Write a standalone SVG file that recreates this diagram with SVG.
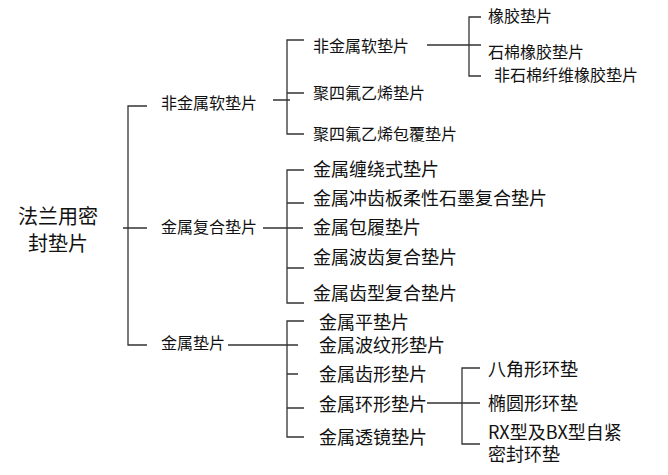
<svg xmlns="http://www.w3.org/2000/svg" width="668" height="475" viewBox="0 0 668 475">
<style>
text{font-family:"Noto Sans CJK SC","Noto Sans",sans-serif;fill:#111}
.f20{font-size:20px}
.f16{font-size:16px}
.f18{font-size:18px}
#connectors path{fill:none;stroke:#333;stroke-width:1.3}
</style>
<rect width="668" height="475" fill="#fff"/>
<g id="connectors">
<path d="M147,106H128V345H147M123,228H147"/>
<path d="M273,100H290M304,40H287V134H304M287,93H304"/>
<path d="M427,45H481M481,17H469V76H481"/>
<path d="M304,170H287V303H304M287,203H304M263,228H303M287,268H304"/>
<path d="M304,321H287V437H304M228,345H298M287,374H298M287,408H304"/>
<path d="M427,403H480M480,368H462V444H480"/>
</g>
<g id="root"><text class="f20" x="58" y="224" text-anchor="middle">法兰用密</text><text class="f20" x="58" y="251" text-anchor="middle">封垫片</text></g>
<g id="n1"><text class="f16" x="161" y="109">非金属软垫片</text></g>
<g id="n2"><text class="f16" x="161" y="233">金属复合垫片</text></g>
<g id="n3"><text class="f16" x="161" y="349">金属垫片</text></g>
<g id="n11"><text class="f16" x="313" y="52">非金属软垫片</text></g>
<g id="n12"><text class="f16" x="313" y="99">聚四氟乙烯垫片</text></g>
<g id="n13"><text class="f16" x="313" y="140">聚四氟乙烯包覆垫片</text></g>
<g id="n111"><text class="f16" x="488" y="22">橡胶垫片</text></g>
<g id="n112"><text class="f16" x="488" y="58">石棉橡胶垫片</text></g>
<g id="n113"><text class="f16" x="494" y="81">非石棉纤维橡胶垫片</text></g>
<g id="n21"><text class="f18" x="313" y="176">金属缠绕式垫片</text></g>
<g id="n22"><text class="f18" x="313" y="205">金属冲齿板柔性石墨复合垫片</text></g>
<g id="n23"><text class="f18" x="313" y="234">金属包履垫片</text></g>
<g id="n24"><text class="f18" x="313" y="264">金属波齿复合垫片</text></g>
<g id="n25"><text class="f18" x="313" y="300">金属齿型复合垫片</text></g>
<g id="n31"><text class="f18" x="319" y="329">金属平垫片</text></g>
<g id="n32"><text class="f18" x="319" y="352">金属波纹形垫片</text></g>
<g id="n33"><text class="f18" x="319" y="381">金属齿形垫片</text></g>
<g id="n34"><text class="f18" x="319" y="411">金属环形垫片</text></g>
<g id="n35"><text class="f18" x="319" y="444">金属透镜垫片</text></g>
<g id="n341"><text class="f18" x="488" y="376">八角形环垫</text></g>
<g id="n342"><text class="f18" x="488" y="410">椭圆形环垫</text></g>
<g id="n343"><text class="f18" x="488" y="439">RX型及BX型自紧</text><text class="f18" x="488" y="461">密封环垫</text></g>
</svg>
